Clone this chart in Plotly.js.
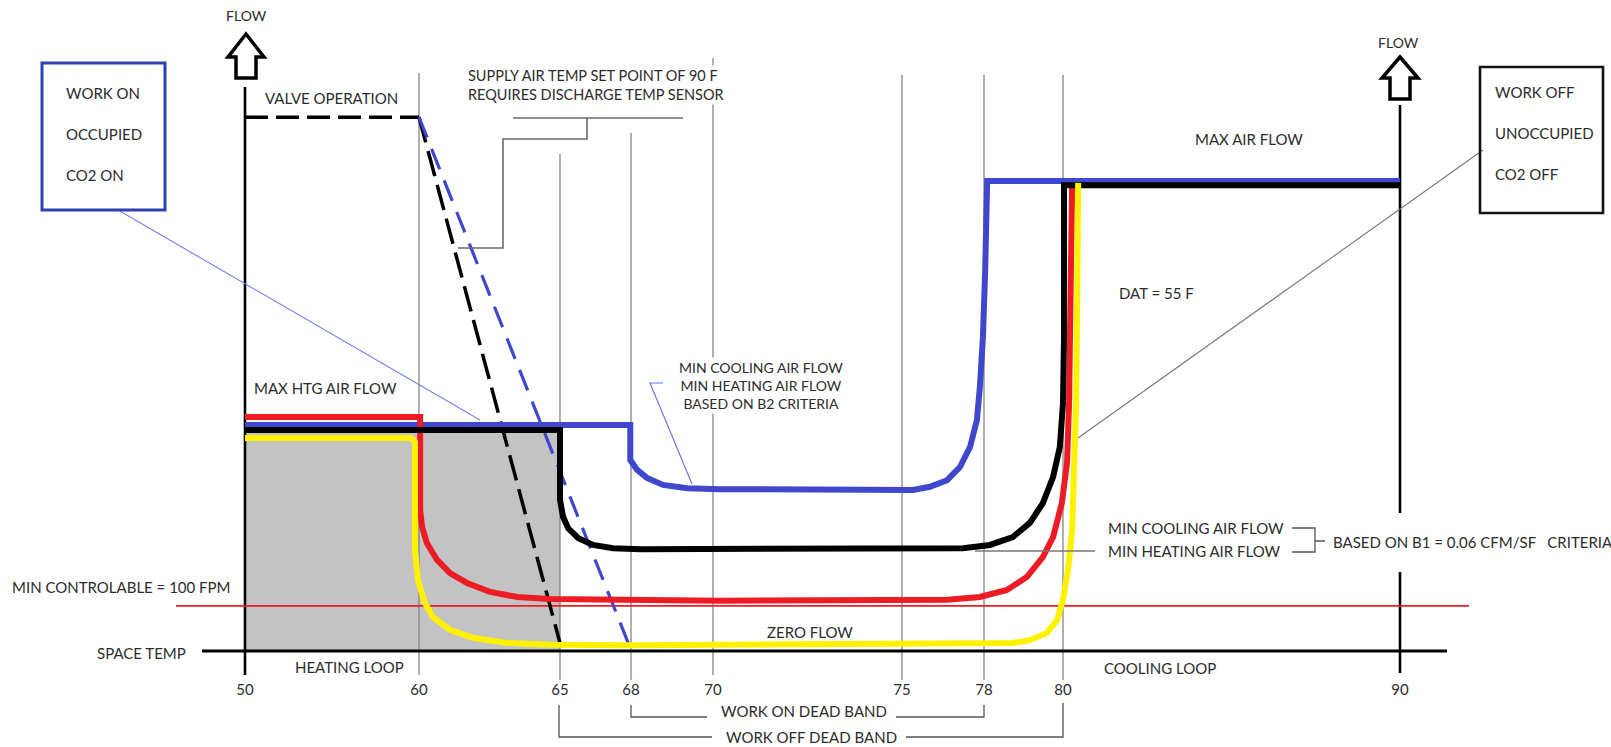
<!DOCTYPE html>
<html><head><meta charset="utf-8">
<script src="https://cdn.plot.ly/plotly-3.0.1.min.js"></script>
<style>html,body{margin:0;padding:0;background:#fff;}#chart{width:1611px;height:747px;}</style>
</head><body><div id="chart"></div>
<script>
// ================= DATA =================
const tickTemps  = [50, 60, 65, 68, 70, 75, 78, 80, 90];
const tickLabels = ['50','60','65','68','70','75','78','80','90'];

// Work-on / occupied (blue) air flow, % of max
const blueTemp = [50, 67.97, 67.97, 68.15, 68.39, 68.78, 69.37, 70.19, 75.4, 76.02, 76.65, 77.12, 77.49, 77.74, 77.85, 77.96, 78.03, 78.08, 78.08, 90];
const blueFlow = [48.0, 48.0, 40.5, 38.4, 36.7, 35.2, 34.5, 34.3, 34.1, 34.8, 36.2, 39.0, 43.3, 49.0, 56.1, 66.7, 81.0, 95.3, 100, 100];

// Black curve
const blackTemp = [50, 65, 65, 65.13, 65.34, 65.76, 66.39, 67.24, 68.22, 70.19, 77.23, 78.15, 78.73, 79.16, 79.49, 79.75, 79.92, 80, 80.03, 80.03, 90];
const blackFlow = [46.9, 46.9, 32.0, 28.4, 26.0, 23.9, 22.4, 21.7, 21.5, 21.5, 21.7, 22.4, 24.1, 27.1, 31.3, 36.9, 43.3, 52.7, 66.7, 99.1, 99.1];

// Red curve
const redTemp = [50, 60.04, 60.04, 60.11, 60.28, 60.64, 61.1, 61.7, 62.52, 63.48, 64.65, 66.69, 70.18, 76.65, 77.85, 78.58, 79.09, 79.49, 79.75, 79.97, 80.12, 80.18, 80.24, 80.27];
const redFlow = [49.7, 49.7, 29.9, 26.2, 22.8, 19.2, 16.4, 14.3, 12.4, 11.3, 10.9, 10.7, 10.5, 10.7, 11.3, 12.8, 15.6, 19.8, 24.1, 31.3, 39.9, 52.7, 74.0, 99.1];

// Yellow curve
const yellowTemp = [50, 59.54, 59.77, 59.77, 59.94, 60.21, 60.5, 61.1, 61.91, 63.12, 64.65, 68.05, 78.73, 79.16, 79.59, 79.85, 80, 80.15, 80.27, 80.33, 80.39, 80.42, 80.45];
const yellowFlow = [45.2, 45.2, 44.3, 21.3, 14.9, 10.0, 7.0, 4.3, 2.6, 1.5, 1.1, 1.0, 1.5, 2.1, 3.6, 6.4, 10.7, 17.1, 25.6, 38.4, 52.7, 74.0, 99.6];

// Valve operation (dashed)
const valveTemp = [50, 60];       const valveFlow = [113.6, 113.6];
const valveOffTemp = [60, 65];    const valveOffFlow = [113.6, 1.5];
const valveOnTemp = [60, 68];     const valveOnFlow = [113.6, 0];

const minControlFlow = 9.4;        // MIN CONTROLABLE = 100 FPM
const heatShadeTemps = [50, 65];   // heating loop shaded zone
const heatShadeFlow = 46.9;

// ================= SCALE / LAYOUT HELPERS =================
const W = 1611, H = 747;
const tickPos = [245, 419, 560, 631, 713, 902, 984, 1063, 1400]; // hand-drawn (non-linear) temperature axis
function X(t){
  const n = tickTemps.length;
  let i = 0;
  if (t <= tickTemps[0]) i = 0;
  else if (t >= tickTemps[n-1]) i = n-2;
  else { while (!(t >= tickTemps[i] && t <= tickTemps[i+1])) i++; }
  const f = (t - tickTemps[i]) / (tickTemps[i+1] - tickTemps[i]);
  return tickPos[i] + f * (tickPos[i+1] - tickPos[i]);
}
const Z0 = 650, K = 4.69;            // flow 0 at pixel row 650, 4.69 px per % flow
function Yp(py){ return (Z0 - py) / K; }
function path(pts){ return pts.map((p,i)=> (i?'L':'M') + p[0] + ',' + Yp(p[1])).join(' '); }

const FONT = 'Lato, "Liberation Sans", Arial, sans-serif';
const TXT = '#2c2c2c';
const FS = 15;

// ================= TRACES =================
function line(tArr, fArr, color, width, dash){
  return {type:'scatter', mode:'lines', x:tArr.map(X), y:fArr, hoverinfo:'skip',
          line:{color:color, width:width, dash:dash||'solid'}};
}
const traces = [
  line(valveTemp, valveFlow, '#000000', 3.5, '23px,8px'),
  line(valveOffTemp, valveOffFlow, '#000000', 3.5, '26px,9px'),
  line(valveOnTemp, valveOnFlow, '#3f48cc', 3.2, '22px,12px'),
  line(blueTemp, blueFlow, '#3f48cc', 6),
  line(redTemp, redFlow, '#ed1c24', 6),
  line(blackTemp, blackFlow, '#000000', 6),
  line(yellowTemp, yellowFlow, '#fff200', 6)
];

// ================= SHAPES =================
const shapes = [];
shapes.push({type:'rect', layer:'below', x0:X(heatShadeTemps[0]), x1:X(heatShadeTemps[1]), y0:0, y1:heatShadeFlow,
             fillcolor:'#c3c3c3', line:{width:0}});
const gridSpec = {60:[73,675], 65:[154,680], 68:[133,680], 70:[58,675], 75:[75,680], 78:[75,680], 80:[75,680]};
Object.keys(gridSpec).forEach(k=>{
  const t = +k, g = gridSpec[k];
  shapes.push({type:'line', layer:'below', x0:X(t), x1:X(t), y0:Yp(g[0]), y1:Yp(g[1]), line:{color:'#858585', width:1.3}});
});
shapes.push({type:'line', layer:'below', x0:X(50), x1:X(50), y0:Yp(87), y1:Yp(675), line:{color:'#000', width:2.6}});
shapes.push({type:'line', layer:'below', x0:X(90), x1:X(90), y0:Yp(105), y1:Yp(513), line:{color:'#000', width:2.6}});
shapes.push({type:'line', layer:'below', x0:X(90), x1:X(90), y0:Yp(572), y1:Yp(673), line:{color:'#000', width:2.6}});
shapes.push({type:'line', layer:'below', x0:202, x1:1447, y0:Yp(651), y1:Yp(651), line:{color:'#000', width:3}});
shapes.push({type:'line', layer:'below', x0:176, x1:1469, y0:minControlFlow, y1:minControlFlow, line:{color:'#ed1c24', width:1.6}});
shapes.push({type:'path', path:path([[118,210],[480,420]]), line:{color:'#7480e6', width:1.1}});
shapes.push({type:'path', path:path([[663,383],[650,383],[692,484]]), line:{color:'#6570e0', width:1.1}});
shapes.push({type:'path', path:path([[513,118],[683,118]]) + ' ' + path([[587,118],[587,139],[503,139],[503,248],[458,248]]), line:{color:'#6a6a6a', width:1.6}});
shapes.push({type:'path', path:path([[1483,150],[1078,438]]), line:{color:'#777', width:1.1}});
shapes.push({type:'path', path:path([[975,551],[1095,551]]), line:{color:'#777', width:1.3}});
shapes.push({type:'path', path:path([[1292,528],[1315,528],[1315,552],[1292,552]]) + ' ' + path([[1315,541],[1325,541]]), line:{color:'#555', width:1.3}});
shapes.push({type:'path', path:path([[631,705],[631,717],[707,717]]) + ' ' + path([[896,717],[984,717],[984,705]]), line:{color:'#555', width:1.3}});
shapes.push({type:'path', path:path([[559,705],[559,737],[712,737]]) + ' ' + path([[906,737],[1063,737],[1063,703]]), line:{color:'#555', width:1.3}});
shapes.push({type:'path', path:path([[42,63],[165,63],[165,210],[42,210]])+' Z', line:{color:'#3040b0', width:3}, fillcolor:'rgba(0,0,0,0)'});
shapes.push({type:'path', path:path([[1480,67],[1603,67],[1603,213],[1480,213]])+' Z', line:{color:'#111', width:2.6}, fillcolor:'rgba(0,0,0,0)'});
function arrow(cx, top, headY, bottom, headHalf, shaftHalf){
  return path([[cx,top],[cx+headHalf,headY],[cx+shaftHalf,headY],[cx+shaftHalf,bottom],[cx-shaftHalf,bottom],[cx-shaftHalf,headY],[cx-headHalf,headY]]) + ' Z';
}
shapes.push({type:'path', path:arrow(246,34,57,78,18,10), line:{color:'#000', width:3.5}, fillcolor:'#fff'});
shapes.push({type:'path', path:arrow(1400,57,78,99,18,10), line:{color:'#000', width:3.5}, fillcolor:'#fff'});

// ================= ANNOTATIONS =================
function A(text, x, y, o){
  o = o || {};
  return Object.assign({text:text, xref:'paper', yref:'paper', x:x/W, y:1-y/H,
    xanchor:o.xa||'left', yanchor:'middle', showarrow:false, align:o.align||'left',
    font:{family:FONT, size:o.size||FS, color:TXT}}, o.bg?{bgcolor:'#fff', borderpad:1}:{});
}
const annotations = [
  A('FLOW', 246, 15, {xa:'center', size:14}),
  A('FLOW', 1398, 42, {xa:'center', size:14}),
  A('WORK ON', 64, 93), A('OCCUPIED', 64, 134), A('CO2 ON', 64, 175),
  A('WORK OFF', 1493, 92), A('UNOCCUPIED', 1493, 133), A('CO2 OFF', 1493, 174),
  A('VALVE OPERATION', 263, 98),
  A('SUPPLY AIR TEMP SET POINT OF 90 F<br>REQUIRES DISCHARGE TEMP SENSOR', 466, 85, {bg:true, size:14.5}),
  A('MAX AIR FLOW', 1193, 139),
  A('DAT = 55 F', 1117, 293),
  A('MIN COOLING AIR FLOW<br>MIN HEATING AIR FLOW<br>BASED ON B2 CRITERIA', 761, 385, {xa:'center', align:'center', bg:true, size:14}),
  A('MAX HTG AIR FLOW', 252, 388),
  A('MIN COOLING AIR FLOW', 1106, 528),
  A('MIN HEATING AIR FLOW', 1106, 551),
  A('BASED ON B1 = 0.06 CFM/SF&nbsp;&nbsp;&nbsp;CRITERIA', 1331, 542),
  A('MIN CONTROLABLE = 100 FPM', 10, 587),
  A('ZERO FLOW', 765, 632),
  A('SPACE TEMP', 188, 653, {xa:'right'}),
  A('HEATING LOOP', 293, 667),
  A('COOLING LOOP', 1102, 668),
  A('WORK ON DEAD BAND', 719, 711),
  A('WORK OFF DEAD BAND', 724, 737)
];

const layout = {
  width: W, height: H, margin:{l:0, r:0, t:0, b:0, pad:0},
  paper_bgcolor:'#fff', plot_bgcolor:'#fff', showlegend:false, hovermode:false,
  xaxis:{range:[0, W], showgrid:false, zeroline:false, showline:false,
         tickmode:'array', tickvals:tickTemps.map(X), ticktext:tickLabels,
         ticks:'outside', ticklen:25, tickcolor:'rgba(0,0,0,0)',
         tickfont:{family:FONT, size:FS, color:TXT},
         anchor:'free', position:1-651/H, fixedrange:true},
  yaxis:{range:[Yp(H), Yp(0)], visible:false, fixedrange:true},
  shapes: shapes, annotations: annotations
};
Plotly.newPlot('chart', traces, layout, {displayModeBar:false, staticPlot:true});
</script></body></html>
